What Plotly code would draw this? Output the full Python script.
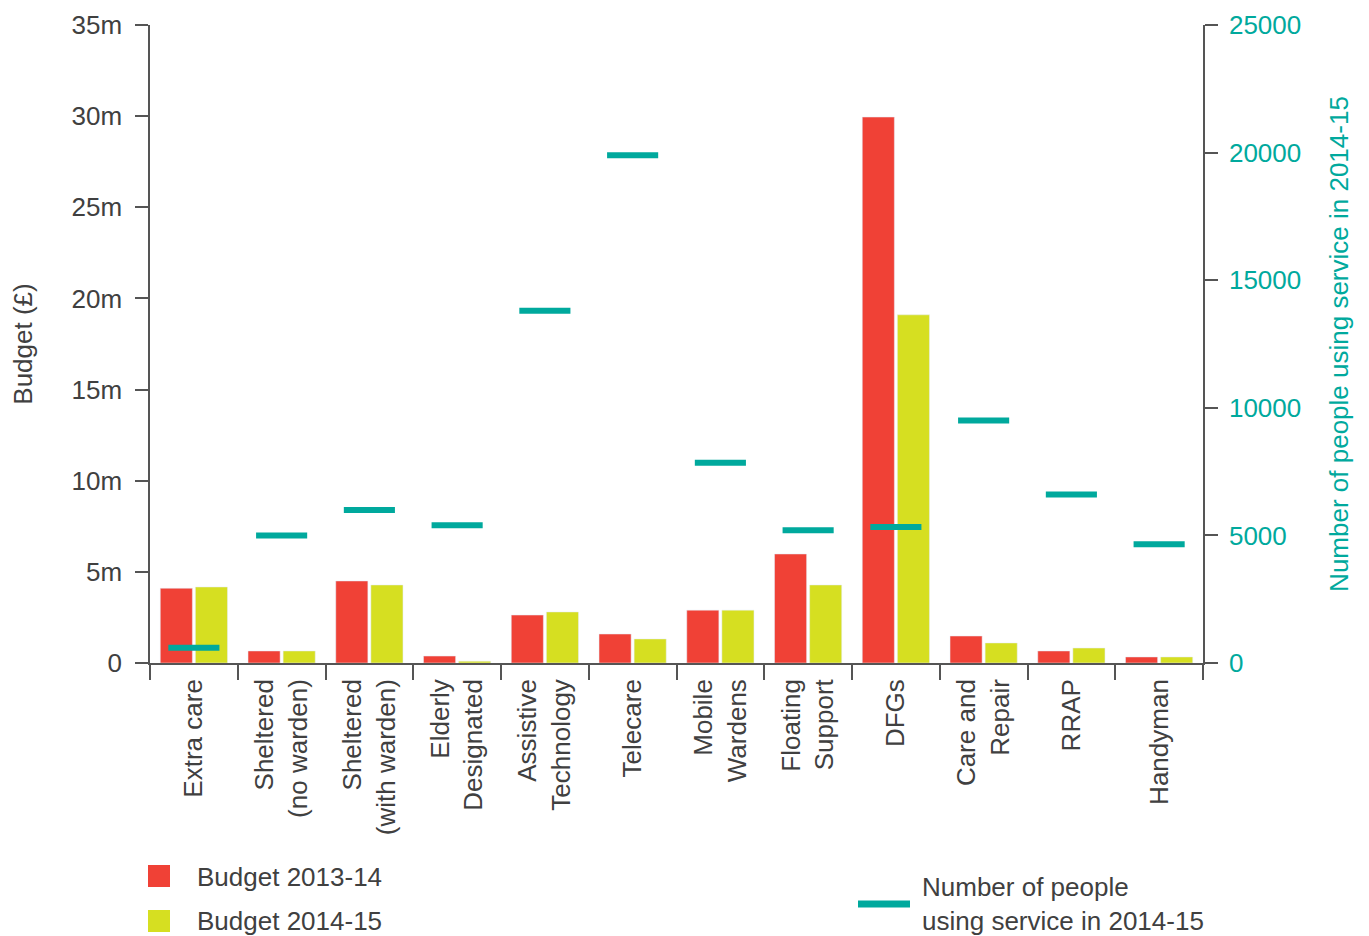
import plotly.graph_objects as go

categories = ["Extra care", "Sheltered<br>(no warden)", "Sheltered<br>(with warden)",
              "Elderly<br>Designated", "Assistive<br>Technology", "Telecare",
              "Mobile<br>Wardens", "Floating<br>Support", "DFGs", "Care and<br>Repair",
              "RRAP", "Handyman"]
budget_2013_14 = [4.1, 0.66, 4.5, 0.38, 2.63, 1.59, 2.9, 5.98, 29.95, 1.48, 0.66, 0.33]
budget_2014_15 = [4.17, 0.66, 4.28, 0.1, 2.8, 1.32, 2.9, 4.28, 19.1, 1.1, 0.82, 0.33]
people_2014_15 = [600, 5000, 6000, 5400, 13800, 19900, 7850, 5200, 5330, 9500, 6600, 4650]

left_tickvals = [0, 5, 10, 15, 20, 25, 30, 35]
left_ticktext = ["0", "5m", "10m", "15m", "20m", "25m", "30m", "35m"]
right_tickvals = [0, 5000, 10000, 15000, 20000, 25000]

RED = "#F04136"
GREEN = "#D6DF21"
TEAL = "#00A99D"
TEXT = "#404040"
AXIS = "#555555"
FONT = "Liberation Sans, Arial, sans-serif"
FS = 26

# page body has an 8px margin; compensate so the figure fills the window
OFF = 8
W, H = 1369 - OFF, 936 - OFF
L, R, T, B = 150 - OFF, 1203 - OFF, 25 - OFF, 663 - OFF

fig = go.Figure()
fig.add_trace(go.Bar(x=categories, y=budget_2013_14, name="Budget 2013-14",
                     marker_color=RED, showlegend=False))
fig.add_trace(go.Bar(x=categories, y=budget_2014_15, name="Budget 2014-15",
                     marker_color=GREEN, showlegend=False))
fig.add_trace(go.Scatter(x=categories, y=people_2014_15, yaxis="y2", mode="markers",
                         name="Number of people using service in 2014-15",
                         marker=dict(symbol="line-ew", size=36.5,
                                     line=dict(width=6, color=TEAL), color=TEAL),
                         showlegend=False))

def px_x(p):
    return (p - OFF - L) / (R - L)

def px_y(p):
    return (B - (p - OFF)) / (B - T)

shapes = [
    dict(type="rect", xref="paper", yref="paper", x0=px_x(148), x1=px_x(170),
         y0=px_y(887), y1=px_y(865), fillcolor=RED, line=dict(width=0)),
    dict(type="rect", xref="paper", yref="paper", x0=px_x(148), x1=px_x(170),
         y0=px_y(932), y1=px_y(910), fillcolor=GREEN, line=dict(width=0)),
    dict(type="line", xref="paper", yref="paper", x0=px_x(858), x1=px_x(910),
         y0=px_y(904), y1=px_y(904), line=dict(width=7, color=TEAL)),
]
annotations = [
    dict(xref="paper", yref="paper", x=px_x(195), y=px_y(877), text="Budget 2013-14",
         showarrow=False, xanchor="left", yanchor="middle",
         font=dict(size=FS, color=TEXT, family=FONT)),
    dict(xref="paper", yref="paper", x=px_x(195), y=px_y(921), text="Budget 2014-15",
         showarrow=False, xanchor="left", yanchor="middle",
         font=dict(size=FS, color=TEXT, family=FONT)),
    dict(xref="paper", yref="paper", x=px_x(920), y=px_y(904),
         text="Number of people<br>using service in 2014-15",
         showarrow=False, xanchor="left", yanchor="middle", align="left",
         font=dict(size=FS, color=TEXT, family=FONT)),
]

fig.update_layout(
    width=W, height=H,
    margin=dict(l=L, r=W - R, t=T, b=H - B, pad=0, autoexpand=False),
    paper_bgcolor="white", plot_bgcolor="white",
    font=dict(family=FONT, size=FS, color=TEXT),
    barmode="group", bargap=0.2, bargroupgap=0.086,
    xaxis=dict(type="category", range=[-0.5, len(categories) - 0.5], automargin=False,
               showgrid=False, showline=True, linecolor=AXIS,
               linewidth=1.5, ticks="outside", tickson="boundaries", ticklen=15,
               tickcolor=AXIS, tickwidth=1.5, tickangle=-90, ticklabelstandoff=4,
               tickfont=dict(size=FS, color=TEXT, family=FONT)),
    yaxis=dict(range=[0, 35], tickvals=left_tickvals, ticktext=left_ticktext,
               automargin=False, ticklabelstandoff=8,
               showgrid=False, zeroline=False, showline=True, linecolor=AXIS,
               linewidth=1.5, ticks="outside", ticklen=13, tickcolor=AXIS,
               tickwidth=1.5, tickfont=dict(size=FS, color=TEXT, family=FONT),
               title=dict(text="Budget (£)", standoff=34,
                          font=dict(size=FS, color=TEXT, family=FONT))),
    yaxis2=dict(range=[0, 25000], tickvals=right_tickvals, tickformat="d",
                automargin=False, ticklabelstandoff=6,
                overlaying="y", side="right", showgrid=False, zeroline=False,
                showline=True, linecolor=AXIS, linewidth=1.5, ticks="outside",
                ticklen=13, tickcolor=AXIS, tickwidth=1.5,
                tickfont=dict(size=FS, color=TEAL, family=FONT),
                title=dict(text="Number of people using service in 2014-15",
                           standoff=30, font=dict(size=FS, color=TEAL, family=FONT))),
    shapes=shapes, annotations=annotations,
    showlegend=False,
)

fig.write_html("out.html")
